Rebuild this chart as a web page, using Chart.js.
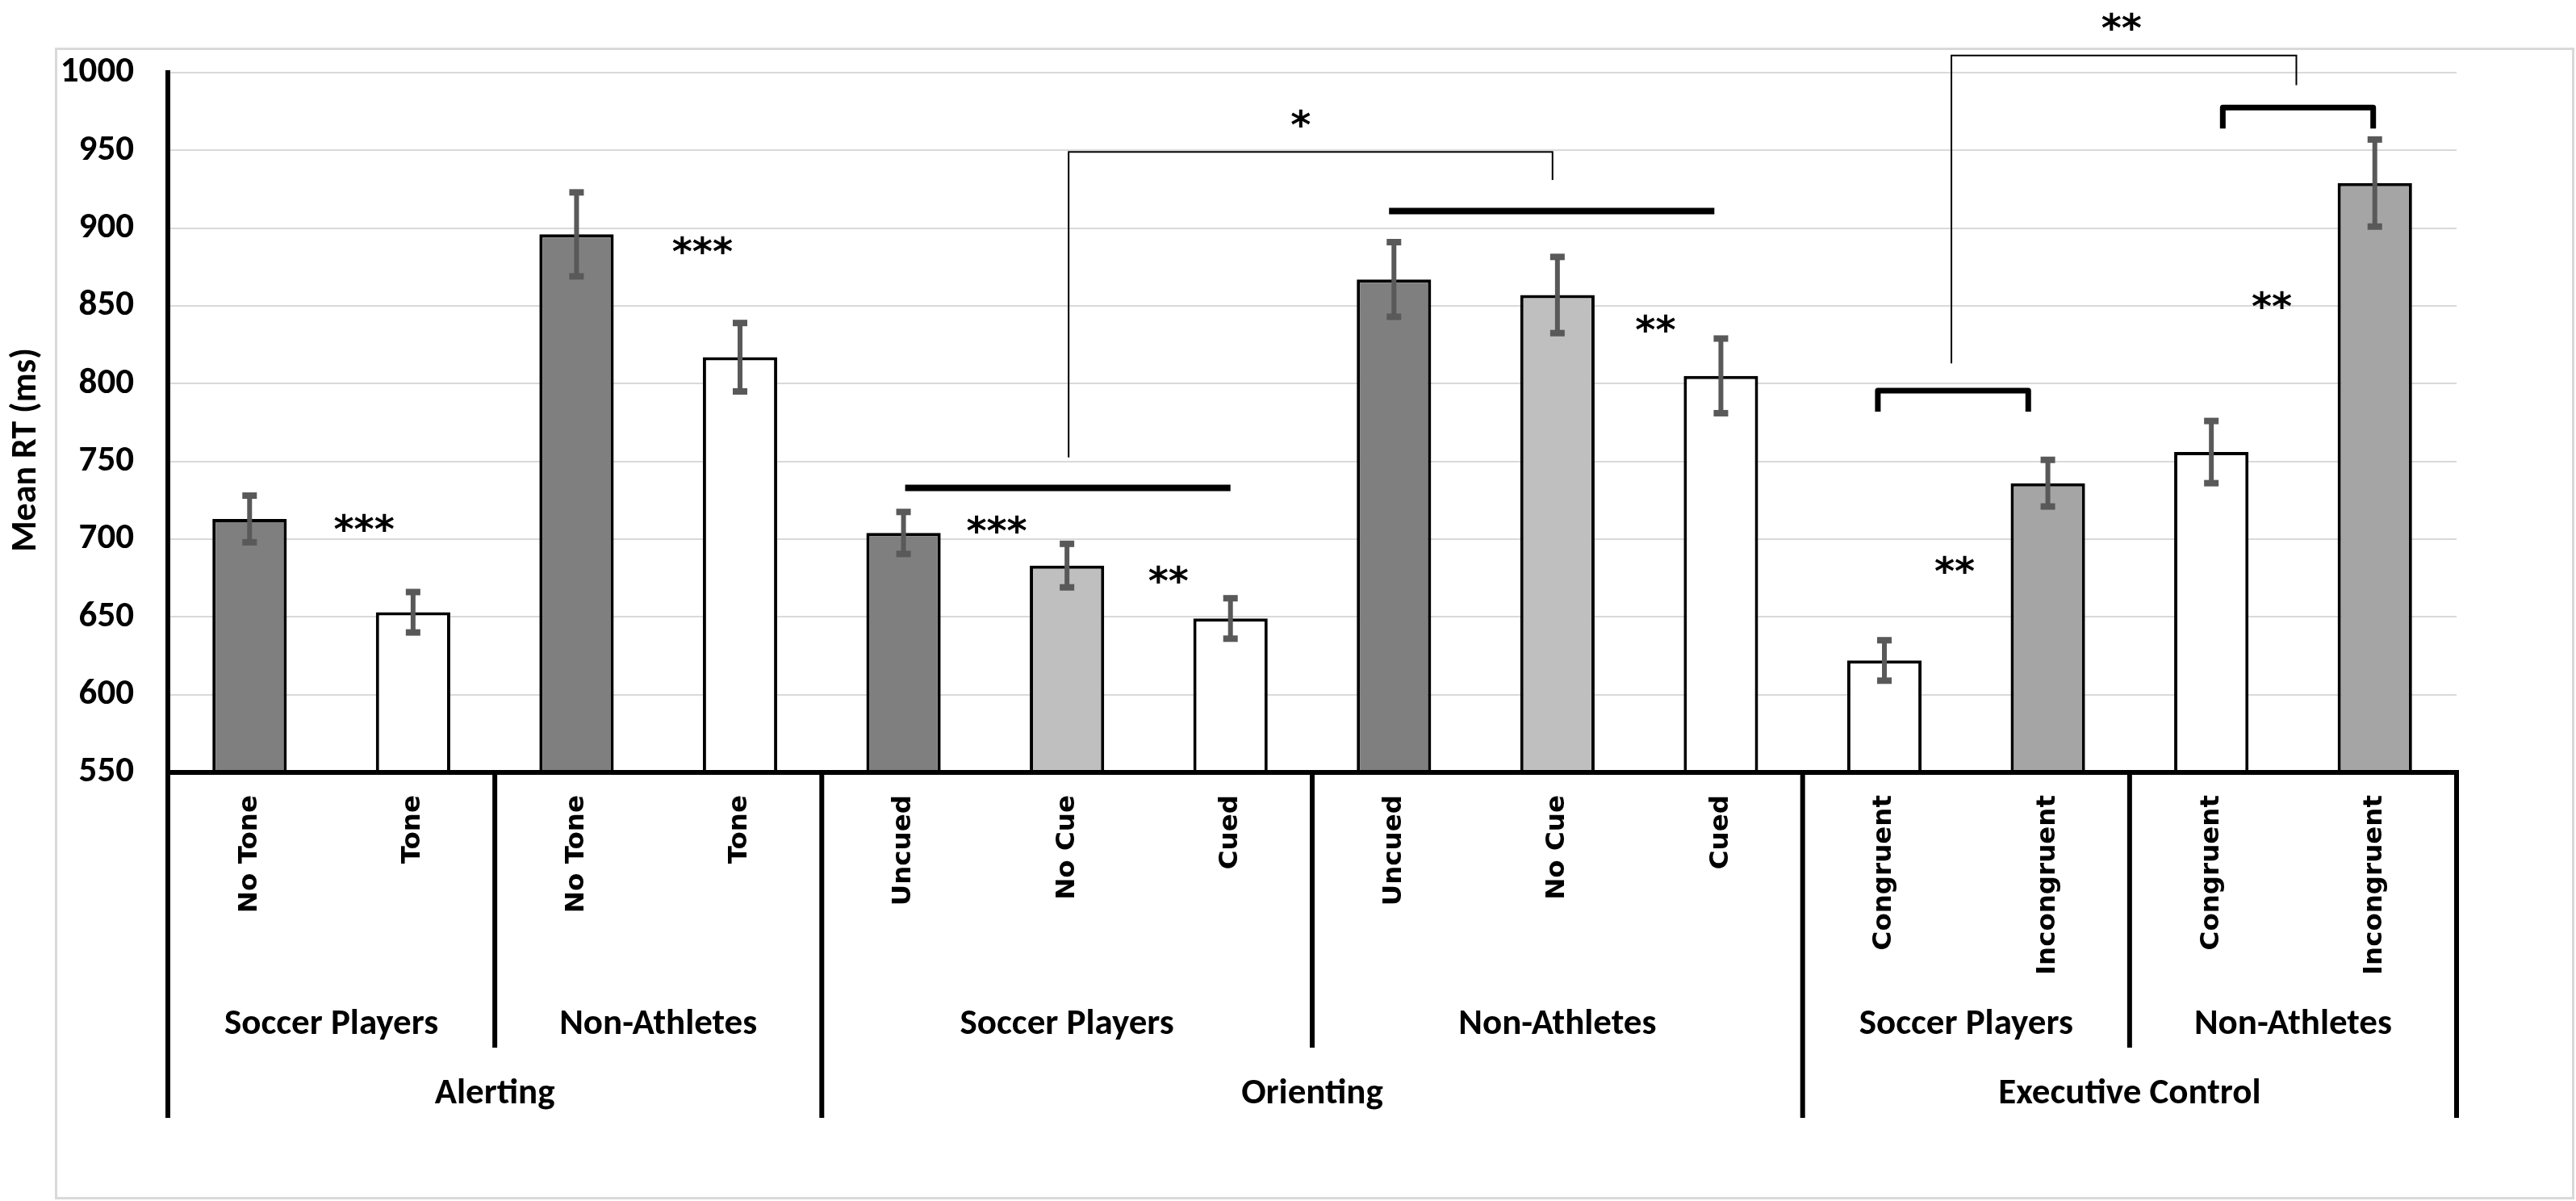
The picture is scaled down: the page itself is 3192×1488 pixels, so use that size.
<!DOCTYPE html>
<html>
<head>
<meta charset="utf-8">
<script src="https://cdn.jsdelivr.net/npm/chart.js@4.4.1/dist/chart.umd.min.js"></script>
<style>
html,body{margin:0;padding:0;background:#ffffff;}
#wrap{position:relative;width:3192px;height:1488px;overflow:hidden;background:#ffffff;}
#frame{position:absolute;left:68px;top:59px;width:3122px;height:1427px;border:3px solid #d9d9d9;box-sizing:border-box;}
#c{position:absolute;left:0;top:0;}
</style>
</head>
<body>
<div id="wrap"><div id="frame"></div><canvas id="c" width="3192" height="1488" style="width:3192px;height:1488px"></canvas></div>
<script>
// ---- data ----
const categories = ['No Tone','Tone','No Tone','Tone','Uncued','No Cue','Cued','Uncued','No Cue','Cued','Congruent','Incongruent','Congruent','Incongruent'];
const meanRT = [713, 653, 896, 817, 704, 683, 649, 867, 857, 805, 622, 736, 756, 929];
const stdErr = [15, 13, 27, 22, 13.5, 14, 13, 24, 24.5, 24, 13, 15, 20, 28];
const barColors = ['#7f7f7f','#ffffff','#7f7f7f','#ffffff','#7f7f7f','#bfbfbf','#ffffff','#7f7f7f','#bfbfbf','#ffffff','#ffffff','#a5a5a5','#ffffff','#a5a5a5'];
const subGroupLabels = ['Soccer Players','Non-Athletes','Soccer Players','Non-Athletes','Soccer Players','Non-Athletes'];
const subGroupFrom = [0, 2, 4, 7, 10, 12];
const subGroupTo   = [1, 3, 6, 9, 11, 13];
const mainGroupLabels = ['Alerting','Orienting','Executive Control'];
const mainGroupFrom = [0, 4, 10];
const mainGroupTo   = [3, 9, 13];
const yMin = 550, yMax = 1000, yStep = 50;
const yTitle = 'Mean RT (ms)';
// significance marks (x in category units, y in ms)
const starText = ['***','***','***','**','**','*','**','**','**'];
const starX    = [0.70, 2.77, 4.57, 5.62, 8.60, 6.43, 10.43, 12.37, 11.45];
const starY    = [712, 890.5, 711, 678.5, 840, 972, 685, 855, 1034];
// straight thick bars over groups
const barLineX1 = [4.01, 6.97];
const barLineX2 = [6.00, 8.96];
const barLineY  = [733, 911];
// thick square brackets (ends down)
const brkX1 = [9.96, 12.07];
const brkX2 = [10.88, 12.99];
const brkTop = [795.5, 977.5];
const brkEnd = [782, 964];
// thin connector brackets
const connX1 = [5.01, 10.41];
const connY1 = [752.5, 813];
const connTop = [949, 1011];
const connX2 = [7.97, 12.52];
const connY2 = [931, 992];

const calibri = 'Carlito, Lato, sans-serif';

const overlay = {
  id: 'overlay',
  afterDatasetsDraw(chart) {
    const {ctx, scales: {x, y}} = chart;
    ctx.save();
    ctx.strokeStyle = '#595959';
    ctx.fillStyle = '#595959';
    ctx.lineWidth = 6;
    meanRT.forEach((v, i) => {
      const px = x.getPixelForValue(i);
      const yt = y.getPixelForValue(v + stdErr[i]);
      const yb = y.getPixelForValue(v - stdErr[i]);
      ctx.beginPath(); ctx.moveTo(px, yt); ctx.lineTo(px, yb); ctx.stroke();
      ctx.fillRect(px - 9, yt - 4, 18, 8);
      ctx.fillRect(px - 9, yb - 4, 18, 8);
    });
    ctx.restore();
  },
  afterDraw(chart) {
    const {ctx, chartArea, scales: {x, y}} = chart;
    const base = chartArea.bottom;
    ctx.save();
    // y-axis title
    ctx.save();
    ctx.fillStyle = '#000000';
    ctx.font = 'bold 44px ' + calibri;
    ctx.textAlign = 'center';
    ctx.textBaseline = 'middle';
    ctx.translate(33, (chartArea.top + chartArea.bottom) / 2 + 34);
    ctx.rotate(-Math.PI / 2);
    ctx.fillText(yTitle, 0, 0);
    ctx.restore();
    // dividers under the axis
    ctx.strokeStyle = '#000000';
    ctx.lineWidth = 6;
    const mainB = new Set();
    mainGroupFrom.forEach(f => mainB.add(f - 0.5));
    mainGroupTo.forEach(t => mainB.add(t + 0.5));
    const subB = new Set();
    subGroupFrom.forEach(f => { if (!mainB.has(f - 0.5)) subB.add(f - 0.5); });
    mainB.forEach(b => {
      const px = x.getPixelForValue(b);
      ctx.beginPath(); ctx.moveTo(px, base - 3); ctx.lineTo(px, base + 428); ctx.stroke();
    });
    subB.forEach(b => {
      const px = x.getPixelForValue(b);
      ctx.beginPath(); ctx.moveTo(px, base); ctx.lineTo(px, base + 341); ctx.stroke();
    });
    // group labels
    ctx.fillStyle = '#000000';
    ctx.textAlign = 'center';
    ctx.textBaseline = 'middle';
    ctx.font = 'bold 45px ' + calibri;
    subGroupLabels.forEach((lab, i) => {
      const cx = (x.getPixelForValue(subGroupFrom[i]) + x.getPixelForValue(subGroupTo[i])) / 2;
      ctx.fillText(lab, cx, base + 313);
    });
    mainGroupLabels.forEach((lab, i) => {
      const cx = (x.getPixelForValue(mainGroupFrom[i]) + x.getPixelForValue(mainGroupTo[i])) / 2;
      ctx.fillText(lab, cx, base + 399);
    });
    // thick straight lines
    ctx.lineCap = 'butt';
    ctx.lineWidth = 8;
    barLineY.forEach((v, i) => {
      const py = y.getPixelForValue(v);
      ctx.beginPath();
      ctx.moveTo(x.getPixelForValue(barLineX1[i]), py);
      ctx.lineTo(x.getPixelForValue(barLineX2[i]), py);
      ctx.stroke();
    });
    // thick brackets
    ctx.lineWidth = 7;
    ctx.lineJoin = 'round';
    brkTop.forEach((v, i) => {
      const x1 = x.getPixelForValue(brkX1[i]), x2 = x.getPixelForValue(brkX2[i]);
      const yt = y.getPixelForValue(v), ye = y.getPixelForValue(brkEnd[i]);
      ctx.beginPath();
      ctx.moveTo(x1, ye); ctx.lineTo(x1, yt); ctx.lineTo(x2, yt); ctx.lineTo(x2, ye);
      ctx.stroke();
    });
    // thin connectors
    ctx.lineWidth = 2;
    ctx.lineJoin = 'miter';
    connTop.forEach((v, i) => {
      const x1 = x.getPixelForValue(connX1[i]), x2 = x.getPixelForValue(connX2[i]);
      ctx.beginPath();
      ctx.moveTo(x1, y.getPixelForValue(connY1[i]));
      ctx.lineTo(x1, y.getPixelForValue(v));
      ctx.lineTo(x2, y.getPixelForValue(v));
      ctx.lineTo(x2, y.getPixelForValue(connY2[i]));
      ctx.stroke();
    });
    // stars
    ctx.font = 'bold 48px "DejaVu Sans", sans-serif';
    ctx.textBaseline = 'alphabetic';
    starText.forEach((t, i) => {
      ctx.fillText(t, x.getPixelForValue(starX[i]), y.getPixelForValue(starY[i]) + 27);
    });
    ctx.restore();
  }
};

function zeroPad(scale) {
  scale.paddingTop = 0; scale.paddingBottom = 0; scale.paddingLeft = 0; scale.paddingRight = 0;
}

new Chart(document.getElementById('c'), {
  type: 'bar',
  data: {
    labels: categories,
    datasets: [{
      data: meanRT,
      backgroundColor: barColors,
      borderColor: '#000000',
      borderWidth: 4,
      barPercentage: 0.455,
      categoryPercentage: 1.0
    }]
  },
  options: {
    responsive: false,
    animation: false,
    devicePixelRatio: 1,
    layout: { padding: { left: 0, right: 148, top: 90, bottom: 0 } },
    plugins: { legend: { display: false }, tooltip: { enabled: false }, title: { display: false } },
    scales: {
      x: {
        type: 'category',
        offset: true,
        grid: { display: false, drawTicks: false },
        border: { display: true, color: '#000000', width: 6, z: 1 },
        ticks: {
          autoSkip: false,
          minRotation: 90,
          maxRotation: 90,
          padding: 28,
          color: '#000000',
          font: { family: '"DejaVu Sans", Verdana, sans-serif', size: 32.5, weight: 'bold' }
        },
        afterFit(scale) { scale.height = 531; zeroPad(scale); }
      },
      y: {
        min: yMin,
        max: yMax,
        grid: { color: '#d9d9d9', lineWidth: 2, drawTicks: false },
        border: { display: true, color: '#000000', width: 6, z: 1 },
        ticks: {
          stepSize: yStep,
          padding: 42,
          color: '#000000',
          callback: (v) => String(v),
          font: { family: calibri, size: 45, weight: 'bold' }
        },
        title: { display: false },
        afterFit(scale) { scale.width = 208; zeroPad(scale); }
      }
    }
  },
  plugins: [overlay]
});
</script>
</body>
</html>
